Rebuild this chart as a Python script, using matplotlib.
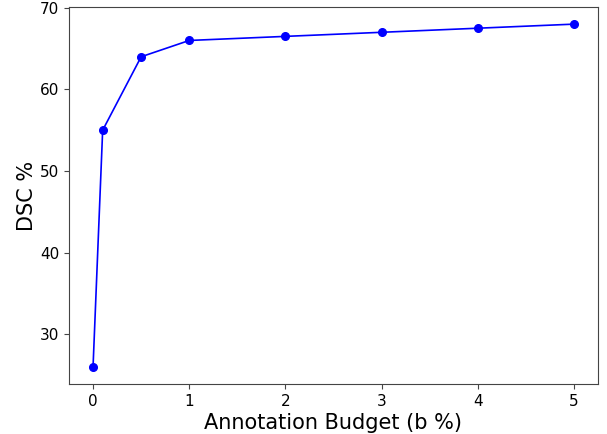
import matplotlib
matplotlib.use("Agg")
import matplotlib.pyplot as plt

budget = [0, 0.1, 0.5, 1, 2, 3, 4, 5]
dsc = [26, 55, 64, 66, 66.5, 67, 67.5, 68]

fig = plt.figure(figsize=(6.07, 4.34), dpi=100)
ax = fig.add_axes([69/607, 1-384/434, (598-69)/607, (384-7)/434])
ax.plot(budget, dsc, color="blue", marker="o", markersize=5.5, linewidth=1.2)
ax.set_xlabel("Annotation Budget (b %)", fontsize=15, labelpad=3)
ax.set_ylabel("DSC %", fontsize=15, labelpad=2)
ax.tick_params(labelsize=11, color="#444444")
for s in ax.spines.values():
    s.set_color("#444444")
fig.savefig("out.png", dpi=100)
